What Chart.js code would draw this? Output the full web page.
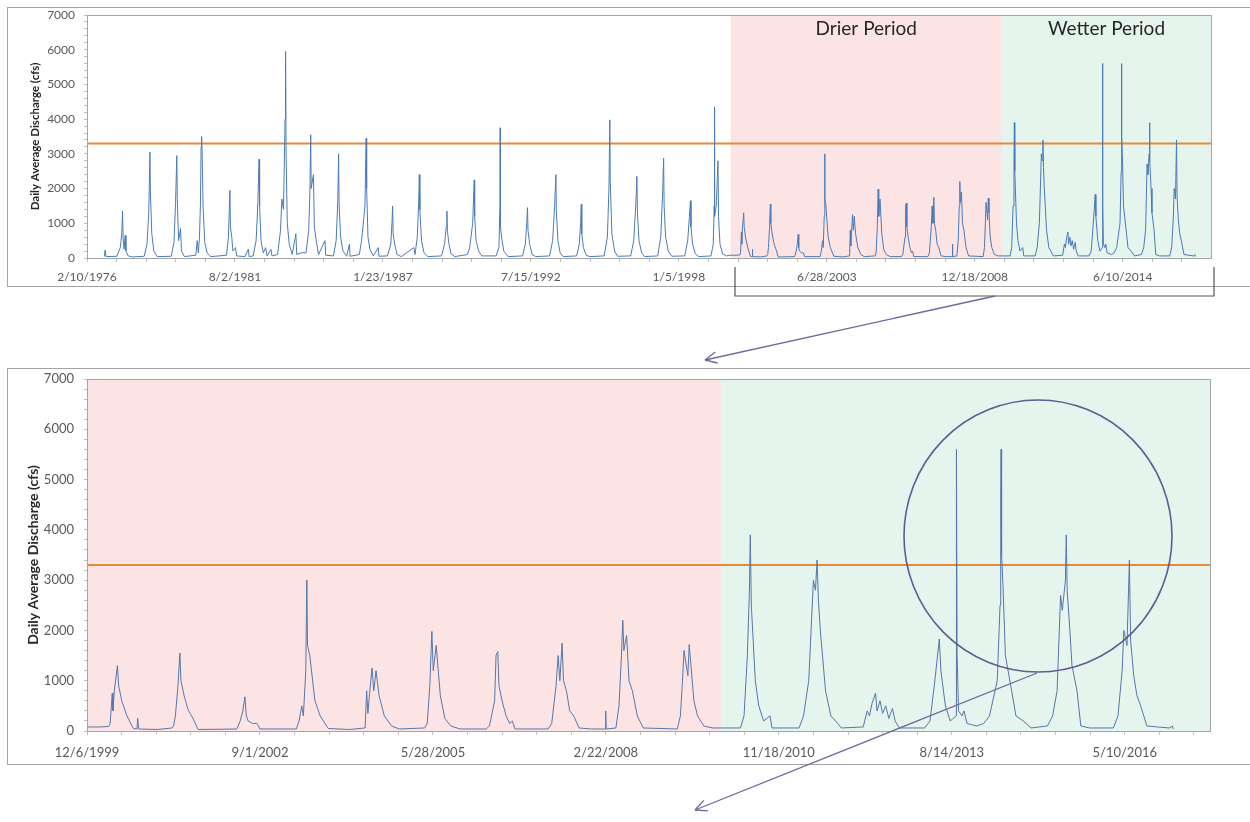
<!DOCTYPE html>
<html>
<head>
<meta charset="utf-8">
<script src="https://cdn.jsdelivr.net/npm/chart.js@4.4.1/dist/chart.umd.min.js"></script>
<style>
  html, body { margin: 0; padding: 0; background: #fff; overflow: hidden; width: 1250px; height: 822px; }
  .box { position: absolute; border: 1px solid #a3a3a3; }
  #topBox { left: 7px; top: 7px; width: 1250px; height: 278px; }
  #bottomBox { left: 7px; top: 368px; width: 1250px; height: 395px; }
  canvas { position: absolute; left: 0; top: 0; }
  #overlay { position: absolute; left: 0; top: 0; pointer-events: none; }
</style>
</head>
<body>
<div class="box" id="topBox"><canvas id="topChart" width="1242" height="278"></canvas></div>
<div class="box" id="bottomBox"><canvas id="bottomChart" width="1242" height="395"></canvas></div>
<svg id="overlay" width="1250" height="822"></svg>
<script>
// daily average discharge, key points (one water year per line)
const dates = [
  '1976-10-01','1976-10-12','1976-10-25',
  '1977-03-20','1977-05-05','1977-05-25','1977-06-05','1977-06-12','1977-06-25','1977-07-10','1977-07-20','1977-08-20','1977-10-15',
  '1978-03-25','1978-05-01','1978-05-25','1978-06-10','1978-06-16','1978-07-05','1978-08-01','1978-09-15',
  '1979-03-25','1979-05-01','1979-05-22','1979-06-08','1979-06-14','1979-07-02','1979-07-28','1979-08-10','1979-09-20',
  '1980-02-20','1980-03-10','1980-03-25','1980-04-08','1980-04-22','1980-05-01','1980-05-08','1980-05-15','1980-05-28','1980-06-20','1980-07-20','1980-09-10',
  '1981-04-10','1981-05-05','1981-05-26','1981-06-02','1981-06-20','1981-07-05','1981-08-10','1981-08-25','1981-12-15','1982-01-30','1982-02-10',
  '1982-04-05','1982-05-15','1982-06-08','1982-06-24','1982-07-01','1982-07-20','1982-08-20','1982-09-20','1982-10-10','1982-12-01','1982-12-15',
  '1983-03-01','1983-04-10','1983-04-28','1983-05-20','1983-06-10','1983-06-17','1983-06-24','1983-07-10','1983-08-05','1983-09-15','1983-11-03','1983-11-15','1984-01-15',
  '1984-03-20','1984-04-25','1984-05-12','1984-05-22','1984-05-28','1984-06-28','1984-07-10','1984-08-05','1984-09-05','1984-12-01','1984-12-10',
  '1985-03-25','1985-05-01','1985-05-22','1985-06-03','1985-06-10','1985-06-30','1985-08-01','1985-09-20','1985-10-27','1985-11-05',
  '1986-03-10','1986-04-10','1986-05-25','1986-06-10','1986-06-17','1986-07-05','1986-08-01','1986-09-15','1986-11-21','1986-12-01',
  '1987-03-25','1987-05-10','1987-05-25','1987-06-03','1987-06-10','1987-07-01','1987-08-01','1987-09-30',
  '1988-03-15','1988-04-01','1988-05-01','1988-05-20','1988-05-29','1988-06-05','1988-06-28','1988-08-01','1988-09-20',
  '1989-03-25','1989-05-05','1989-05-28','1989-06-06','1989-06-12','1989-06-30','1989-08-01','1989-09-20',
  '1990-03-10','1990-04-10','1990-05-20','1990-06-10','1990-06-16','1990-07-05','1990-08-10','1990-09-20',
  '1991-04-01','1991-05-10','1991-05-24','1991-05-27','1991-05-31','1991-06-15','1991-07-15','1991-09-10',
  '1992-03-25','1992-05-01','1992-05-20','1992-05-30','1992-06-06','1992-06-28','1992-08-01','1992-09-20',
  '1993-03-25','1993-05-05','1993-06-01','1993-06-18','1993-06-24','1993-07-15','1993-08-15','1993-09-25',
  '1994-03-25','1994-05-01','1994-05-18','1994-05-27','1994-06-03','1994-06-25','1994-08-01','1994-09-20',
  '1995-04-01','1995-05-15','1995-06-05','1995-06-17','1995-06-23','1995-07-15','1995-08-20','1995-09-30',
  '1996-03-25','1996-05-05','1996-06-01','1996-06-17','1996-06-24','1996-07-15','1996-08-20','1996-09-30',
  '1997-03-25','1997-05-05','1997-05-30','1997-06-13','1997-06-20','1997-07-10','1997-08-15','1997-09-30',
  '1998-03-25','1998-05-05','1998-05-28','1998-06-10','1998-06-18','1998-07-10','1998-08-15','1998-09-30',
  '1999-03-15','1999-04-15','1999-04-28','1999-05-01','1999-05-05','1999-05-25','1999-06-18','1999-06-25','1999-07-15','1999-08-20','1999-10-10',
  '1999-12-06','2000-02-15','2000-04-10','2000-04-18','2000-04-30','2000-05-04','2000-05-12','2000-05-30','2000-06-06','2000-06-24','2000-07-24','2000-08-30','2000-09-20','2000-09-24','2000-09-30',
  '2001-01-15','2001-04-10','2001-04-20','2001-04-30','2001-05-15','2001-05-26','2001-06-01','2001-06-20','2001-07-10','2001-07-24','2001-08-10','2001-09-08',
  '2002-04-20','2002-05-10','2002-05-25','2002-06-06','2002-06-14','2002-06-25','2002-07-20','2002-08-15','2002-09-01',
  '2003-03-30','2003-04-15','2003-05-01','2003-05-10','2003-05-24','2003-05-30','2003-06-03','2003-06-16','2003-07-16','2003-08-15','2003-10-01','2004-02-01',
  '2004-05-01','2004-05-10','2004-05-17','2004-05-27','2004-06-10','2004-06-20','2004-07-03','2004-07-21','2004-08-20','2004-10-01','2004-11-15',
  '2005-04-10','2005-04-25','2005-05-10','2005-05-22','2005-05-30','2005-06-16','2005-07-10','2005-08-05','2005-09-08','2005-11-01',
  '2006-04-01','2006-04-20','2006-05-20','2006-05-28','2006-06-07','2006-06-14','2006-07-02','2006-07-25','2006-08-15','2006-08-30','2006-09-15',
  '2007-03-25','2007-04-15','2007-05-10','2007-05-22','2007-06-01','2007-06-14','2007-06-22','2007-07-09','2007-07-28','2007-08-20','2007-09-20','2007-12-01',
  '2008-02-18','2008-02-21','2008-02-24','2008-04-20','2008-05-08','2008-05-22','2008-05-30','2008-06-05','2008-06-21','2008-07-05','2008-07-24','2008-08-22','2008-09-25',
  '2009-04-10','2009-04-28','2009-05-10','2009-05-19','2009-06-10','2009-06-18','2009-06-28','2009-07-15','2009-08-05','2009-09-10','2009-11-01',
  '2010-04-10','2010-05-01','2010-05-20','2010-06-01','2010-06-06','2010-06-12','2010-07-05','2010-07-25','2010-08-22','2010-09-28','2010-10-10',
  '2011-03-15','2011-04-10','2011-05-10','2011-06-06','2011-06-18','2011-06-27','2011-07-05','2011-07-16','2011-08-15','2011-09-15','2011-10-12','2011-11-15',
  '2012-03-20','2012-04-12','2012-04-25','2012-05-10','2012-05-30','2012-06-08','2012-06-25','2012-07-10','2012-07-28','2012-08-15','2012-09-05','2012-09-20','2012-10-15',
  '2013-03-10','2013-04-10','2013-05-05','2013-06-03','2013-06-12','2013-07-08','2013-08-05','2013-09-08','2013-09-10','2013-09-14','2013-09-22','2013-10-12','2013-10-24','2013-11-10','2014-01-05',
  '2014-02-15','2014-03-20','2014-05-04','2014-05-20','2014-05-24','2014-05-26','2014-05-29','2014-06-06','2014-06-20','2014-07-26','2014-08-20','2014-10-01','2014-11-15',
  '2015-02-18','2015-03-20','2015-04-15','2015-05-05','2015-05-15','2015-06-02','2015-06-07','2015-06-12','2015-06-28','2015-07-10','2015-08-08','2015-08-30','2015-10-20',
  '2016-03-05','2016-04-01','2016-04-25','2016-05-05','2016-05-23','2016-06-06','2016-06-13','2016-07-01','2016-07-20','2016-08-10','2016-09-15','2016-11-15',
  '2017-01-25','2017-02-10','2017-02-14'
];
const flows = [
  40,230,40,
  50,300,700,1350,600,250,650,200,60,30,
  50,400,1300,3050,1900,700,200,40,
  50,450,1600,2950,1700,500,850,200,40,
  80,500,150,550,1500,3200,3500,3100,1500,450,150,40,
  80,600,1950,900,600,200,300,60,40,250,40,
  60,500,1600,2850,1500,500,150,300,60,250,60,
  100,800,1700,1400,4000,5950,3000,1000,400,100,700,100,150,
  150,800,2000,3550,2000,2400,900,500,100,500,80,
  60,500,1600,3000,1500,600,200,50,400,50,
  100,500,1500,3450,2000,600,250,60,300,50,
  60,400,1000,1500,700,400,100,40,
  300,100,600,1600,2400,1400,500,150,40,
  60,400,900,1350,800,450,120,40,
  100,300,1000,2250,1200,500,200,60,
  60,300,1500,3750,900,600,200,40,
  60,400,1000,1450,800,400,100,40,
  60,500,1500,2400,1400,500,150,40,
  60,400,1000,1550,700,300,80,40,
  60,600,2000,3980,2200,700,200,50,
  60,500,1500,2350,1300,500,150,40,
  60,600,1800,2880,1500,600,200,50,
  60,500,1200,1650,900,400,120,40,
  60,400,1500,4350,1200,1500,2800,1200,400,120,60,
  80,80,90,150,750,400,800,1300,900,600,300,50,40,250,40,
  30,60,100,300,900,1550,1000,700,450,350,250,30,
  40,200,400,680,300,200,150,150,40,
  40,200,500,300,1200,3000,1700,1500,600,300,50,30,
  60,800,350,750,1250,800,1200,700,300,100,40,
  60,150,900,1980,1200,1700,700,250,100,40,
  40,100,600,1500,1580,900,600,300,150,200,40,
  40,150,900,1500,1000,1750,1000,800,400,300,60,40,
  40,400,40,60,500,1500,2200,1600,1900,1000,800,300,60,
  40,300,1000,1600,1100,1720,1300,600,300,100,60,
  60,300,1500,2800,3900,2500,1000,500,200,300,60,
  60,300,1000,3000,2800,3400,2600,2000,800,300,200,60,
  80,400,300,550,750,400,600,350,500,250,450,200,60,
  60,200,900,1830,1200,500,200,300,5600,1500,400,300,400,150,100,
  150,300,1000,2500,4600,5600,3500,2900,1500,800,300,200,60,
  100,300,800,2700,2400,3000,3900,2800,2000,1300,800,100,60,
  60,300,1200,2000,1700,3400,1800,1100,700,500,100,80,
  60,100,40
];
const threshold = 3300;
const drierStart = '1999-12-06';
const wetterStart = '2009-12-20';
const axisEnd = '2017-09-15';
const topAxisStart = '1976-02-10';
const bottomAxisStart = '1999-12-06';

const DAY = 86400000;
function dayNum(s) {
  const [y, m, d] = s.split('-').map(Number);
  return Date.UTC(y, m - 1, d) / DAY;
}
function fmtDate(v) {
  const d = new Date(v * DAY);
  return (d.getUTCMonth() + 1) + '/' + d.getUTCDate() + '/' + d.getUTCFullYear();
}

const FONT = 'Lato, "Open Sans", sans-serif';
const pink = '#fde4e4';
const green = '#e5f4ec';

// shaded periods behind the hydrograph, plus plot frame
const periodShading = {
  id: 'periodShading',
  beforeDatasetsDraw(chart, args, opts) {
    const { ctx, chartArea: a, scales: { x } } = chart;
    ctx.save();
    opts.bands.forEach(b => {
      const x0 = Math.max(a.left, x.getPixelForValue(dayNum(b.from)));
      const x1 = Math.min(a.right, x.getPixelForValue(dayNum(b.to)));
      ctx.fillStyle = b.color;
      ctx.fillRect(x0, a.top, x1 - x0, a.bottom - a.top);
      if (b.label) {
        ctx.fillStyle = '#262626';
        ctx.font = '19px ' + FONT;
        ctx.textAlign = 'center';
        ctx.textBaseline = 'middle';
        ctx.fillText(b.label, (x0 + x1) / 2, a.top + 14);
      }
    });
    ctx.restore();
  },
  afterDraw(chart) {
    const { ctx, chartArea: a } = chart;
    ctx.save();
    ctx.strokeStyle = '#a6a6a6';
    ctx.lineWidth = 1;
    ctx.strokeRect(Math.round(a.left) + 0.5, Math.round(a.top) + 0.5, Math.round(a.right - a.left), Math.round(a.bottom - a.top));
    ctx.restore();
  }
};

function makeChart(id, o) {
  const start = dayNum(o.start), end = dayNum(axisEnd);
  const series = dates.map((s, i) => ({ x: dayNum(s), y: flows[i] }));
  return new Chart(document.getElementById(id), {
    type: 'line',
    data: {
      datasets: [
        { data: series, borderColor: o.lineColor, borderWidth: 1, pointRadius: 0, tension: 0 },
        { data: [{ x: start, y: threshold }, { x: end, y: threshold }], borderColor: '#e38a3c', borderWidth: 2, pointRadius: 0 }
      ]
    },
    options: {
      responsive: false,
      animation: false,
      events: [],
      layout: { padding: { left: 0, top: o.padTop, right: o.padRight, bottom: 0 } },
      plugins: {
        legend: { display: false },
        tooltip: { enabled: false },
        periodShading: { bands: o.bands }
      },
      scales: {
        x: {
          type: 'linear',
          min: start,
          max: end,
          afterBuildTicks: scale => {
            const t = [];
            for (let v = start; v <= end; v += o.minor) t.push({ value: v });
            scale.ticks = t;
          },
          afterFit: scale => { scale.height = o.xHeight; },
          ticks: {
            autoSkip: false,
            maxRotation: 0,
            padding: o.xPad,
            color: '#595959',
            font: { family: FONT, size: o.tickSize },
            callback: v => ((v - start) % o.major === 0 ? fmtDate(v) : '')
          },
          grid: { drawOnChartArea: false, tickLength: 4, color: '#bfbfbf' },
          border: { color: '#bfbfbf' }
        },
        y: {
          min: 0,
          max: 7000,
          afterBuildTicks: scale => {
            const t = [];
            for (let v = 0; v <= 7000; v += 200) t.push({ value: v });
            scale.ticks = t;
          },
          afterFit: scale => {
            scale.width = 79;
            scale.paddingTop = 0;
            scale.paddingBottom = 0;
          },
          ticks: {
            autoSkip: false,
            padding: o.yPad,
            color: '#595959',
            font: { family: FONT, size: o.tickSize },
            callback: v => (v % 1000 === 0 ? v : '')
          },
          grid: { drawOnChartArea: false, tickLength: 3, color: '#bfbfbf' },
          border: { color: '#bfbfbf' },
          title: {
            display: true,
            text: 'Daily Average Discharge (cfs)',
            color: '#262626',
            font: { family: FONT, size: o.titleSize, weight: 'bold' },
            padding: { top: o.titlePad, bottom: 0 }
          }
        }
      }
    },
    plugins: [periodShading]
  });
}

makeChart('topChart', {
  start: topAxisStart, minor: 400, major: 2000,
  padTop: 7, padRight: 39, xHeight: 28, xPad: 8, yPad: 9,
  tickSize: 12, titleSize: 11.5, titlePad: 20,
  lineColor: '#4a7bb7',
  bands: [
    { from: drierStart, to: wetterStart, color: pink, label: 'Drier Period' },
    { from: wetterStart, to: axisEnd, color: green, label: 'Wetter Period' }
  ]
});

makeChart('bottomChart', {
  start: bottomAxisStart, minor: 200, major: 1000,
  padTop: 10, padRight: 40, xHeight: 33, xPad: 10, yPad: 10,
  tickSize: 13, titleSize: 14, titlePad: 17,
  lineColor: '#5577aa',
  bands: [
    { from: drierStart, to: wetterStart, color: pink },
    { from: wetterStart, to: axisEnd, color: green }
  ]
});

// callouts: bracket, arrows, circle
const svg = document.getElementById('overlay');
const NS = 'http://www.w3.org/2000/svg';
function add(tag, attrs) {
  const el = document.createElementNS(NS, tag);
  for (const k in attrs) el.setAttribute(k, attrs[k]);
  svg.appendChild(el);
}
function arrow(x1, y1, x2, y2, color) {
  add('line', { x1, y1, x2, y2, stroke: color, 'stroke-width': 1.3 });
  const ang = Math.atan2(y1 - y2, x1 - x2);
  [-0.45, 0.45].forEach(da => {
    add('line', { x1: x2, y1: y2, x2: x2 + 13 * Math.cos(ang + da), y2: y2 + 13 * Math.sin(ang + da), stroke: color, 'stroke-width': 1.3 });
  });
}
add('polyline', { points: '735,267 735,296 1214,296 1214,267', fill: 'none', stroke: '#555', 'stroke-width': 1.2 });
arrow(995, 296, 705, 360, '#6c6a9c');
add('ellipse', { cx: 1038, cy: 536, rx: 134, ry: 136, fill: 'none', stroke: '#5f5b93', 'stroke-width': 1.6 });
arrow(1037, 673, 695, 810, '#6c6a9c');
</script>
</body>
</html>
